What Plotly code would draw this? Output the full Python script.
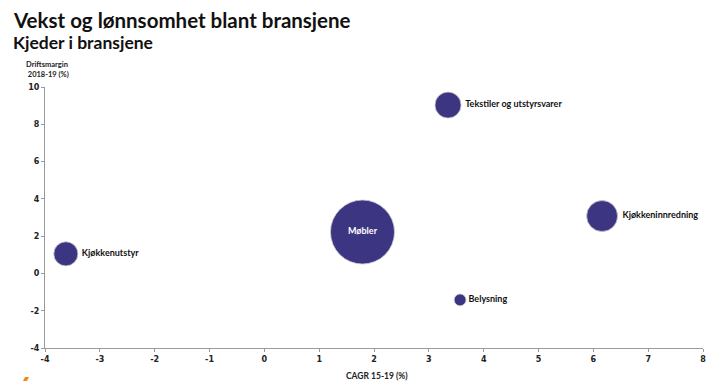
import plotly.graph_objects as go

# Industry segments: growth (CAGR 15-19, %) vs. operating margin (2018-19, %)
bransjer = ["Kjøkkenutstyr", "Møbler", "Tekstiler og utstyrsvarer",
            "Kjøkkeninnredning", "Belysning"]
cagr = [-3.62, 1.79, 3.35, 6.16, 3.57]
driftsmargin = [1.05, 2.22, 9.03, 3.08, -1.42]
# relative bubble size (market size)
omsetning = [5.8, 41.0, 6.8, 9.6, 1.4]

x_ticks = list(range(-4, 9))
y_ticks = list(range(-4, 11, 2))

BUBBLE = "#3c3582"
MAX_D = 64
sizeref = 2.0 * max(omsetning) / MAX_D ** 2

positions = ["middle center" if b == "Møbler" else "middle right" for b in bransjer]
text_colors = ["white" if b == "Møbler" else "#111111" for b in bransjer]

LABEL_FONT = "Lato, sans-serif"

fig = go.Figure(
    go.Scatter(
        x=cagr,
        y=driftsmargin,
        mode="markers+text",
        text=bransjer,
        textposition=positions,
        textfont=dict(family=LABEL_FONT, size=9, color=text_colors, weight="bold"),
        marker=dict(size=omsetning, sizemode="area", sizeref=sizeref,
                    color=BUBBLE, opacity=1,
                    line=dict(color="#c8c8d0", width=0.8)),
        cliponaxis=False,
        hoverinfo="skip",
    )
)

tick_font = dict(family="DejaVu Sans, Verdana, sans-serif", size=8, color="#222222", weight="bold")

L, T, R, B = 45, 87, 4, 33
W, H = 707 - L - R, 381 - T - B  # plot area in pixels

fig.update_layout(
    width=707, height=381,
    margin=dict(l=L, r=R, t=T, b=B, autoexpand=False),
    paper_bgcolor="white", plot_bgcolor="white",
    showlegend=False,
    font=dict(family="DejaVu Sans, sans-serif"),
    xaxis=dict(range=[-4, 8], tickvals=x_ticks, ticktext=[str(v) for v in x_ticks],
               showgrid=False, zeroline=False, automargin=False,
               showline=True, linecolor="#9a9a9a", linewidth=1,
               ticks="outside", ticklen=3, tickcolor="#9a9a9a",
               tickfont=tick_font, ticklabeloverflow="allow"),
    yaxis=dict(range=[-4, 10], tickvals=y_ticks, ticktext=[str(v) for v in y_ticks],
               showgrid=False, zeroline=False, automargin=False,
               showline=True, linecolor="#9a9a9a", linewidth=1,
               ticks="outside", ticklen=3, tickcolor="#9a9a9a",
               tickfont=tick_font),
    annotations=[
        dict(text="<b>Vekst og lønnsomhet blant bransjene</b>", xref="paper", yref="paper",
             x=(11 - L) / W, y=1 + (T - 20) / H, xanchor="left", yanchor="middle",
             showarrow=False, font=dict(family=LABEL_FONT, size=20.5, color="#111111")),
        dict(text="<b>Kjeder i bransjene</b>", xref="paper", yref="paper",
             x=(11 - L) / W, y=1 + (T - 43) / H, xanchor="left", yanchor="middle",
             showarrow=False, font=dict(family=LABEL_FONT, size=17.5, color="#111111")),
        dict(text="<b>Driftsmargin<br> 2018-19 (%)</b>", xref="paper", yref="paper",
             x=(24 - L) / W, y=1 + (T - 69) / H, xanchor="left", yanchor="middle",
             align="left", showarrow=False,
             font=dict(family=LABEL_FONT, size=7.5, color="#222222")),
        dict(text="<b>CAGR 15-19 (%)</b>", xref="paper", yref="paper",
             x=(377 - L) / W, y=-(376 - 348) / H, xanchor="center", yanchor="middle",
             showarrow=False,
             font=dict(family=LABEL_FONT, size=8.5, color="#222222")),
    ],
    shapes=[
        # small orange logo mark in the bottom-left corner
        dict(type="path", xref="paper", yref="paper",
             path="M {:.4f} {:.4f} L {:.4f} {:.4f} L {:.4f} {:.4f} L {:.4f} {:.4f} Z".format(
                 (23 - L) / W, -33 / H, (27 - L) / W, -33 / H,
                 (29 - L) / W, -(377 - 348) / H, (25 - L) / W, -(377 - 348) / H),
             fillcolor="#f08a1c", line=dict(width=0)),
    ],
)

fig.write_html("out.html")
